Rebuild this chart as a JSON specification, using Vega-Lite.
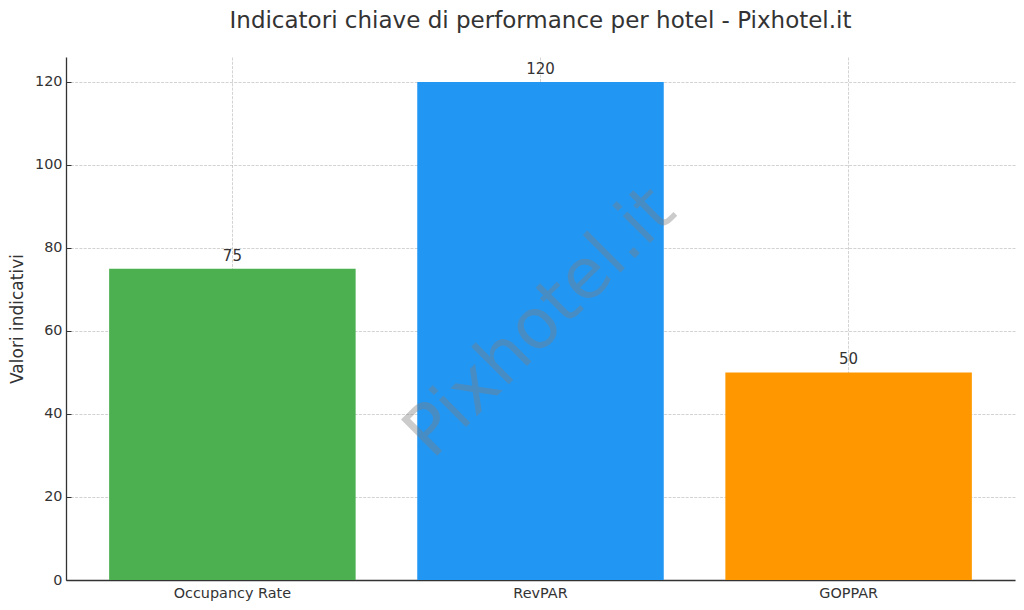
{
  "$schema": "https://vega.github.io/schema/vega-lite/v6.json",
  "width": 949,
  "height": 523,
  "autosize": "none",
  "padding": {"left": 66, "top": 57, "right": 9, "bottom": 30},
  "background": "white",
  "title": {
    "text": "Indicatori chiave di performance per hotel - Pixhotel.it",
    "font": "DejaVu Sans",
    "fontSize": 23,
    "fontWeight": "normal",
    "color": "#333333",
    "anchor": "middle",
    "offset": 24
  },
  "config": {
    "view": {"stroke": null},
    "font": "DejaVu Sans",
    "axis": {
      "labelFont": "DejaVu Sans",
      "labelFontSize": 14.4,
      "labelColor": "#333333",
      "titleFont": "DejaVu Sans",
      "titleFontWeight": "normal",
      "titleColor": "#333333",
      "domainColor": "#333333",
      "domainWidth": 1.3,
      "tickColor": "#333333",
      "tickWidth": 1,
      "tickSize": -5,
      "grid": true,
      "gridColor": "#b0b0b0",
      "gridOpacity": 0.7,
      "gridWidth": 0.8,
      "gridDash": [3, 1.3],
      "zindex": 1
    }
  },
  "datasets": {
    "kpi": [
      {"indicatore": "Occupancy Rate", "valore": 75},
      {"indicatore": "RevPAR", "valore": 120},
      {"indicatore": "GOPPAR", "valore": 50}
    ],
    "filigrana": [
      {"testo": "Pixhotel.it", "posizione": "RevPAR", "livello": 62}
    ]
  },
  "layer": [
    {
      "data": {"name": "kpi"},
      "mark": {"type": "bar"},
      "encoding": {
        "x": {
          "field": "indicatore",
          "type": "nominal",
          "scale": {"domain": ["Occupancy Rate", "RevPAR", "GOPPAR"], "paddingInner": 0.2, "paddingOuter": 0.14},
          "axis": {"title": null, "labelAngle": 0, "labelPadding": 11, "bandPosition": 0.5}
        },
        "y": {
          "field": "valore",
          "type": "quantitative",
          "scale": {"domain": [0, 126], "nice": false},
          "axis": {
            "title": "Valori indicativi",
            "titleFontSize": 17,
            "titlePadding": 8,
            "values": [0, 20, 40, 60, 80, 100, 120],
            "labelPadding": 9
          }
        },
        "color": {
          "field": "indicatore",
          "type": "nominal",
          "scale": {
            "domain": ["Occupancy Rate", "RevPAR", "GOPPAR"],
            "range": ["#4CAF50", "#2196F3", "#FF9800"]
          },
          "legend": null
        }
      }
    },
    {
      "data": {"name": "kpi"},
      "mark": {"type": "text", "font": "DejaVu Sans", "fontSize": 15, "color": "#333333", "baseline": "alphabetic", "dy": -8},
      "encoding": {
        "x": {"field": "indicatore", "type": "nominal"},
        "y": {"field": "valore", "type": "quantitative"},
        "text": {"field": "valore", "type": "quantitative"}
      }
    },
    {
      "data": {"name": "filigrana"},
      "mark": {"type": "text", "font": "DejaVu Sans", "fontSize": 70, "color": "#808080", "opacity": 0.4, "angle": 315, "align": "center", "baseline": "middle"},
      "encoding": {
        "x": {"field": "posizione", "type": "nominal"},
        "y": {"field": "livello", "type": "quantitative"},
        "text": {"field": "testo", "type": "nominal"}
      }
    }
  ]
}
